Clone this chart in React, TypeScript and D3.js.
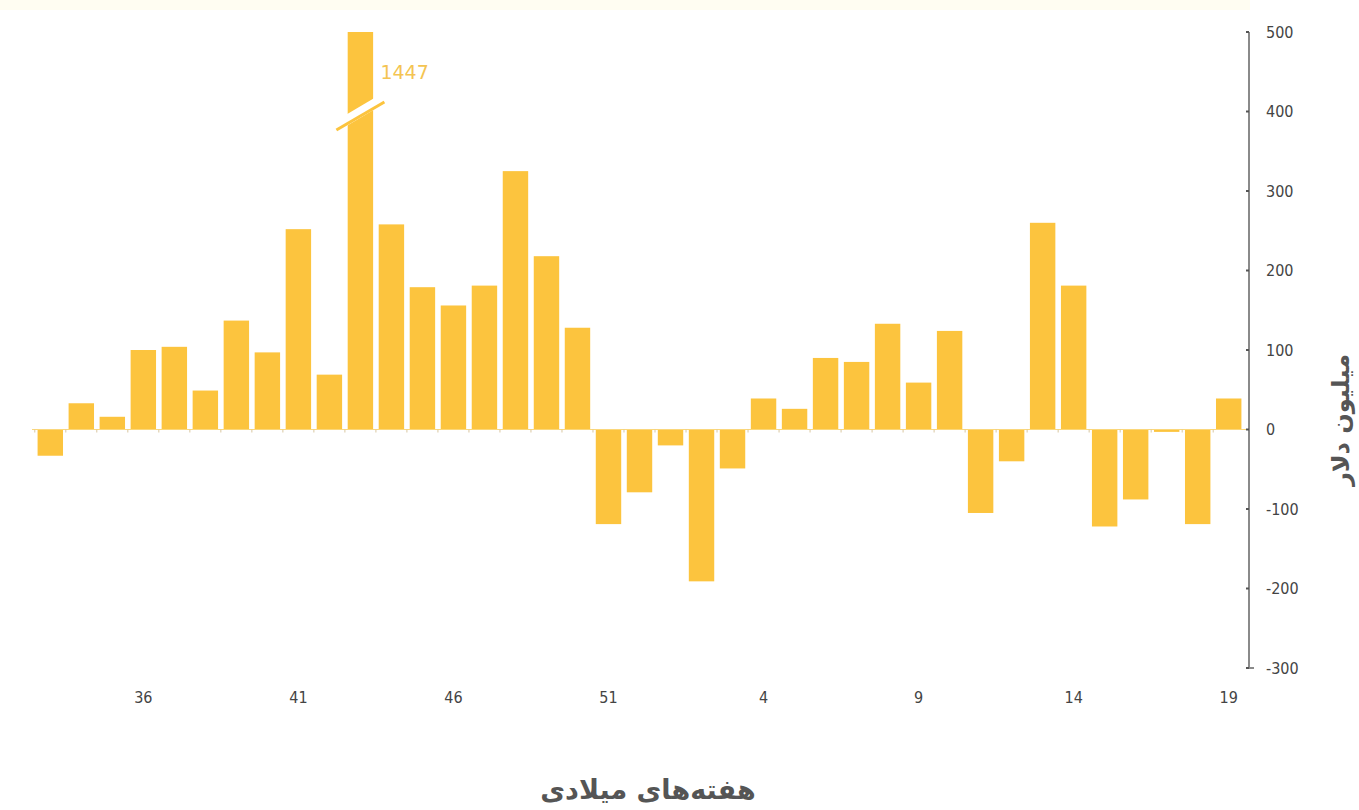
import { useEffect, useRef } from "react";
import * as d3 from "d3";

// weeks 33..52 of one year followed by 1..19 of the next
const weeks: string[] = [
  "33", "34", "35", "36", "37", "38", "39", "40", "41", "42",
  "43", "44", "45", "46", "47", "48", "49", "50", "51", "52",
  "1", "2", "3", "4", "5", "6", "7", "8", "9", "10",
  "11", "12", "13", "14", "15", "16", "17", "18", "19",
];

const flows: number[] = [
  -33, 33, 16, 100, 104, 49, 137, 97, 252, 69,
  1447, 258, 179, 156, 181, 325, 218, 128, -119, -79,
  -20, -191, -49, 39, 26, 90, 85, 133, 59, 124,
  -105, -40, 260, 181, -122, -88, -3, -119, 39,
];

const labeledWeeks: string[] = ["36", "41", "46", "51", "4", "9", "14", "19"];
const yTicks: number[] = [500, 400, 300, 200, 100, 0, -100, -200, -300];

const W = 1359;
const H = 810;
const BAR = "#fcc43e";
const NUM_FONT = "'DejaVu Sans', sans-serif";

export default function App() {
  const svgRef = useRef<SVGSVGElement>(null);

  useEffect(() => {
    if (!svgRef.current) return;
    const svg = d3.select(svgRef.current);
    svg.selectAll("*").remove();

    const x = d3.scaleBand<string>().domain(weeks.map((w, i) => `${i}-${w}`)).range([32, 1247]).padding(0.18);
    const y = d3.scaleLinear().domain([-300, 500]).range([668, 32]);
    const key = (i: number) => `${i}-${weeks[i]}`;
    const cap = y.domain()[1];

    // faint band at the very top
    svg.append("rect").attr("x", 0).attr("y", 0).attr("width", 1250).attr("height", 10).attr("fill", "#fffdf2");

    // bars
    svg.append("g")
      .selectAll("rect")
      .data(flows)
      .join("rect")
      .attr("x", (_, i) => x(key(i))!)
      .attr("width", x.bandwidth())
      .attr("y", (d) => y(Math.max(0, Math.min(d, cap))))
      .attr("height", (d) => Math.max(1, Math.abs(y(Math.min(d, cap)) - y(0))))
      .attr("fill", BAR);

    // zero line + small category ticks
    svg.append("line")
      .attr("x1", 32).attr("x2", 1249)
      .attr("y1", y(0)).attr("y2", y(0))
      .attr("stroke", "#fbd77a").attr("stroke-width", 1);
    svg.append("g")
      .selectAll("line")
      .data(weeks)
      .join("line")
      .attr("x1", (_, i) => x(key(i))! - (x.step() - x.bandwidth()) / 2)
      .attr("x2", (_, i) => x(key(i))! - (x.step() - x.bandwidth()) / 2)
      .attr("y1", y(0)).attr("y2", y(0) + 3)
      .attr("stroke", "#d9c7a0").attr("stroke-width", 1);

    // axis break on the oversized bar
    const bi = flows.findIndex((d) => d > cap);
    if (bi >= 0) {
      const cx = x(key(bi))! + x.bandwidth() / 2;
      const by = 113;
      svg.append("line")
        .attr("x1", cx - 22).attr("y1", by + 12)
        .attr("x2", cx + 22).attr("y2", by - 14)
        .attr("stroke", "#fff").attr("stroke-width", 10);
      svg.append("line")
        .attr("x1", cx - 24).attr("y1", by + 17)
        .attr("x2", cx + 24).attr("y2", by - 11)
        .attr("stroke", BAR).attr("stroke-width", 3);
      svg.append("text")
        .attr("x", cx + 20).attr("y", 79)
        .attr("font-family", NUM_FONT)
        .attr("font-size", 19)
        .attr("fill", "#f4c452")
        .text(String(flows[bi]));
    }

    // y axis on the right
    const ax = 1249;
    svg.append("line")
      .attr("x1", ax).attr("x2", ax)
      .attr("y1", y(500)).attr("y2", y(-300))
      .attr("stroke", "#8a8a8a").attr("stroke-width", 2);
    const yt = svg.append("g").selectAll("g").data(yTicks).join("g");
    yt.append("line")
      .attr("x1", ax - 3).attr("x2", ax)
      .attr("y1", (d) => y(d)).attr("y2", (d) => y(d))
      .attr("stroke", "#555").attr("stroke-width", 2);
    yt.append("text")
      .attr("x", ax + 17)
      .attr("y", (d) => y(d))
      .attr("dy", "0.35em")
      .attr("font-family", NUM_FONT)
      .attr("font-stretch", "condensed")
      .attr("font-size", 16)
      .attr("fill", "#444")
      .text((d) => String(d));
    svg.append("line")
      .attr("x1", ax).attr("x2", ax + 5)
      .attr("y1", y(-300)).attr("y2", y(-300))
      .attr("stroke", "#8a8a8a").attr("stroke-width", 2);

    // x tick labels
    svg.append("g")
      .selectAll("text")
      .data(weeks.map((w, i) => ({ w, i })).filter((d) => d.i > 2 && labeledWeeks.includes(d.w)))
      .join("text")
      .attr("x", (d) => x(key(d.i))! + x.bandwidth() / 2)
      .attr("y", 703)
      .attr("text-anchor", "middle")
      .attr("font-family", NUM_FONT)
      .attr("font-stretch", "condensed")
      .attr("font-size", 16)
      .attr("fill", "#444")
      .text((d) => d.w);

    // axis titles
    svg.append("text")
      .attr("x", 648).attr("y", 799)
      .attr("text-anchor", "middle")
      .attr("direction", "rtl")
      .attr("font-family", "'DejaVu Sans', sans-serif")
      .attr("font-weight", "bold")
      .attr("font-size", 27)
      .attr("fill", "#555")
      .text("هفته‌های میلادی");

    svg.append("text")
      .attr("transform", `translate(1349, 420) rotate(-90)`)
      .attr("text-anchor", "middle")
      .attr("direction", "rtl")
      .attr("font-family", "'DejaVu Sans', sans-serif")
      .attr("font-weight", "bold")
      .attr("font-size", 24)
      .attr("fill", "#555")
      .text("میلیون دلار");
  }, []);

  return (
    <div style={{ position: "absolute", left: 0, top: 0 }}>
      <svg ref={svgRef} width={W} height={H} style={{ display: "block", background: "#fff" }} />
    </div>
  );
}
